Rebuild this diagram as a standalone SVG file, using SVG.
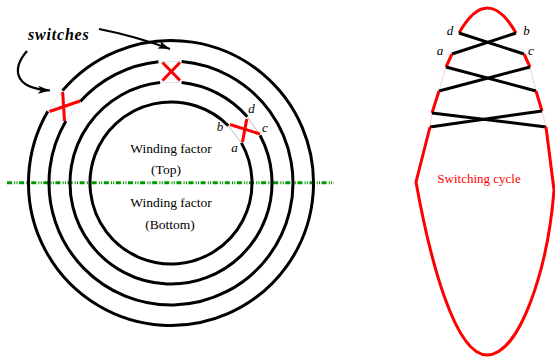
<svg xmlns="http://www.w3.org/2000/svg" width="555" height="357" viewBox="0 0 555 357">
<style>
.ring{fill:none;stroke:#000;stroke-width:3}
.sw{fill:none;stroke:#ff0000;stroke-width:3}
.blk{fill:none;stroke:#000;stroke-width:3}
.faint{fill:none;stroke:#d0d0d0;stroke-width:0.6}
.faintr{fill:none;stroke:#f3b0b0;stroke-width:0.6}
.t{font-family:"Liberation Serif","Times New Roman",serif;font-size:13.5px;fill:#000;text-anchor:middle}
.lbl{font-family:"Liberation Serif","Times New Roman",serif;font-size:13px;font-style:italic;fill:#000;text-anchor:middle}
</style>
<defs>
<marker id="ah" markerUnits="userSpaceOnUse" markerWidth="14" markerHeight="10" refX="12" refY="4" orient="auto">
<path d="M0,0 L12,4 L0,8 L3,4 z" fill="#000"/>
</marker>
</defs>
<rect width="555" height="357" fill="#fff"/>

<g id="axis">
<line x1="7" y1="182.7" x2="334" y2="182.7" stroke="#009a00" stroke-width="3" stroke-dasharray="5 2.2 1 1.3 1 1.6"/>
</g>

<g id="rings">
<path class="ring" d="M62.48,90.64 A142.5,142.5 0 1 1 47.84,111.32"/>
<path class="ring" d="M80.19,101.52 A122,122 0 0 1 158.46,61.65"/>
<path class="ring" d="M181.63,61.46 A122,122 0 1 1 65.88,121.08"/>
<path class="ring" d="M181.56,82.55 A101,101 0 0 1 247.23,116.74"/>
<path class="ring" d="M260.01,135.27 A101,101 0 1 1 160.09,82.59"/>
<path class="ring" d="M241.36,142.87 A81,81 0 1 1 228.28,125.72"/>
</g>

<g id="switch-left">
<line class="faint" x1="62.48" y1="90.64" x2="47.84" y2="111.32"/>
<line class="faint" x1="80.19" y1="101.52" x2="65.88" y2="121.08"/>
<line class="sw" x1="62.7" y1="92" x2="64.5" y2="121"/>
<line class="sw" x1="49.5" y1="111.5" x2="80" y2="101"/>
</g>

<g id="switch-top">
<line class="faint" x1="158.46" y1="61.65" x2="181.63" y2="61.46"/>
<line class="faint" x1="160.09" y1="82.59" x2="181.56" y2="82.55"/>
<line class="sw" x1="162.5" y1="62.5" x2="180" y2="80.5"/>
<line class="sw" x1="180" y1="62.5" x2="162.5" y2="80.5"/>
</g>

<g id="switch-right">
<line stroke="#888" stroke-width="0.6" x1="228.28" y1="125.72" x2="241.36" y2="142.87"/>
<line stroke="#888" stroke-width="0.6" x1="247.23" y1="116.74" x2="260.01" y2="135.27"/>
<line class="sw" x1="230" y1="124.5" x2="260" y2="134"/>
<line class="sw" x1="246.8" y1="119" x2="242.5" y2="142"/>
<text class="lbl" x="251.5" y="112.5">d</text>
<text class="lbl" x="220" y="130.5">b</text>
<text class="lbl" x="265" y="132">c</text>
<text class="lbl" x="234.5" y="152">a</text>
</g>

<g id="winding-text">
<text class="t" x="171" y="153">Winding factor</text>
<text class="t" x="166" y="174">(Top)</text>
<text class="t" x="171" y="207">Winding factor</text>
<text class="t" x="170" y="229">(Bottom)</text>
</g>

<g id="switches-label">
<text x="28" y="39.5" font-family="'Liberation Serif','Times New Roman',serif" font-size="16" font-style="italic" font-weight="bold" letter-spacing="0.8" fill="#000">switches</text>
</g>

<g id="connectors">
<path d="M99,29 Q135,36 170,49" fill="none" stroke="#000" stroke-width="2.2" marker-end="url(#ah)"/>
<path d="M27,51 C14,66 10,88 50,90.5" fill="none" stroke="#000" stroke-width="2.2" marker-end="url(#ah)"/>
</g>

<g id="cycle">
<path class="sw" d="M459,33 Q487.5,-17 516,33"/>
<line class="blk" x1="459" y1="33" x2="524" y2="54"/>
<line class="blk" x1="516" y1="33" x2="452" y2="54"/>
<line class="sw" x1="452" y1="54" x2="446" y2="67"/>
<line class="sw" x1="524" y1="54" x2="530" y2="67"/>
<line class="faintr" x1="446" y1="67" x2="439" y2="91"/>
<line class="faintr" x1="530" y1="67" x2="536" y2="91"/>
<line class="blk" x1="446" y1="67" x2="536" y2="91"/>
<line class="blk" x1="530" y1="67" x2="439" y2="91"/>
<line class="sw" x1="439" y1="91" x2="432" y2="113"/>
<line class="sw" x1="536" y1="91" x2="542" y2="111"/>
<line class="faintr" x1="432" y1="113" x2="430" y2="127"/>
<line class="faintr" x1="542" y1="111" x2="546" y2="127"/>
<line class="blk" x1="432" y1="113" x2="546" y2="127"/>
<line class="blk" x1="542" y1="111" x2="430" y2="127"/>
<path class="sw" d="M430,127 L416,182 C430,260 455,355 487,355 C520,355 548,268 554,190 L546,127"/>
<text class="lbl" x="450" y="35">d</text>
<text class="lbl" x="526.5" y="35">b</text>
<text class="lbl" x="440" y="55">a</text>
<text class="lbl" x="531" y="55">c</text>
<text x="479" y="183" font-family="'Liberation Serif','Times New Roman',serif" font-size="13" fill="#ff0000" text-anchor="middle">Switching cycle</text>
</g>
</svg>
